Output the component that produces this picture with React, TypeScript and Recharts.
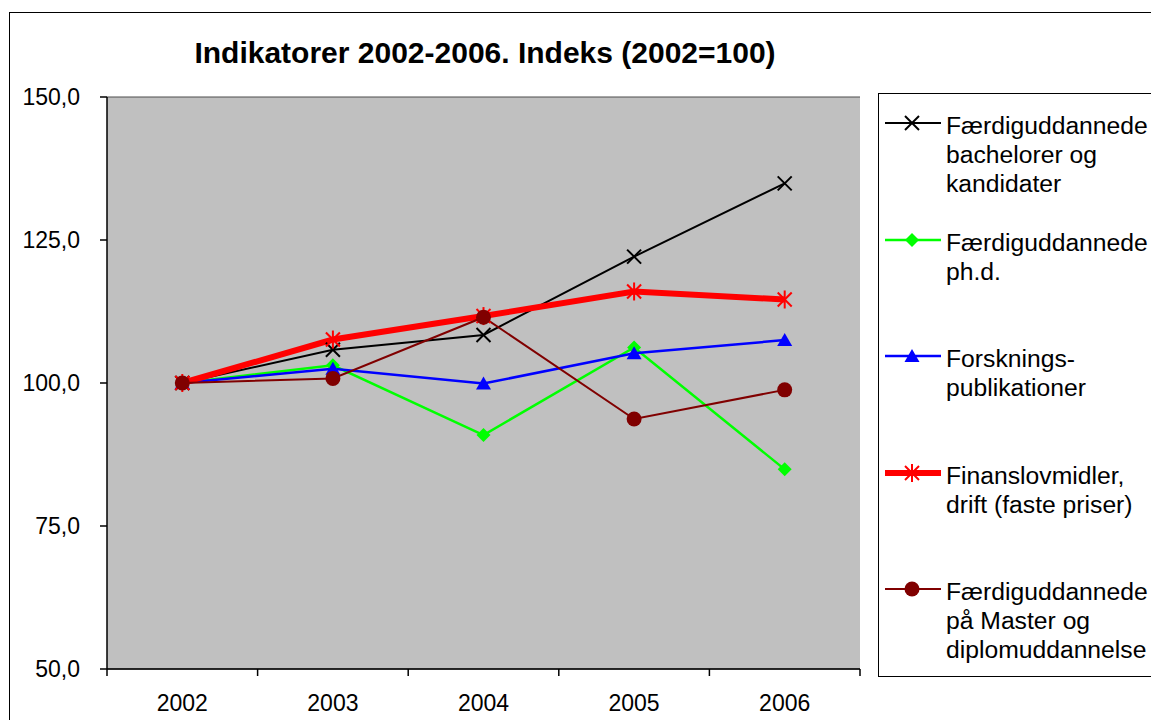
import React from "react";
import { LineChart, Line, XAxis, YAxis, CartesianGrid } from "recharts";

const years = ["2002", "2003", "2004", "2005", "2006"];
const bachelorer = [100, 105.8, 108.4, 122.1, 134.9];
const phd = [100, 103.1, 90.9, 106.2, 84.9];
const publikationer = [100, 102.5, 99.9, 105.2, 107.5];
const finanslov = [100, 107.6, 111.7, 116.0, 114.6];
const master = [100, 100.8, 111.5, 93.7, 98.8];
const yTicks = [50, 75, 100, 125, 150];

const FONT = '"Liberation Sans", Arial, sans-serif';
const PLOT_W = 753;
const BAND = PLOT_W / years.length;

type MarkerKind = "x" | "diamond" | "triangle" | "star" | "circle";

const series = [
  { key: "bach", label: ["Færdiguddannede", "bachelorer og", "kandidater"], values: bachelorer, color: "#000000", width: 2, marker: "x" as MarkerKind },
  { key: "phd", label: ["Færdiguddannede", "ph.d."], values: phd, color: "#00ff00", width: 2.5, marker: "diamond" as MarkerKind },
  { key: "publ", label: ["Forsknings-", "publikationer"], values: publikationer, color: "#0000ff", width: 2.5, marker: "triangle" as MarkerKind },
  { key: "fin", label: ["Finanslovmidler,", "drift (faste priser)"], values: finanslov, color: "#ff0000", width: 6, marker: "star" as MarkerKind },
  { key: "mast", label: ["Færdiguddannede", "på Master og", "diplomuddannelse"], values: master, color: "#800000", width: 2, marker: "circle" as MarkerKind },
];

const data = years.map((y, i) => {
  const row: Record<string, string | number> = { year: y };
  series.forEach((s) => (row[s.key] = s.values[i]));
  return row;
});

function Marker({ kind, cx, cy, color }: { kind: MarkerKind; cx: number; cy: number; color: string }) {
  if (kind === "x") {
    const d = 7;
    return (
      <g stroke={color} strokeWidth={2}>
        <line x1={cx - d} y1={cy - d} x2={cx + d} y2={cy + d} />
        <line x1={cx - d} y1={cy + d} x2={cx + d} y2={cy - d} />
      </g>
    );
  }
  if (kind === "diamond") {
    const d = 7;
    return <polygon points={`${cx},${cy - d} ${cx + d},${cy} ${cx},${cy + d} ${cx - d},${cy}`} fill={color} />;
  }
  if (kind === "triangle") {
    return <polygon points={`${cx},${cy - 7} ${cx + 7.5},${cy + 6} ${cx - 7.5},${cy + 6}`} fill={color} />;
  }
  if (kind === "star") {
    const d = 9;
    const e = 7;
    return (
      <g stroke={color} strokeWidth={2}>
        <line x1={cx} y1={cy - d} x2={cx} y2={cy + d} />
        <line x1={cx - e} y1={cy - e} x2={cx + e} y2={cy + e} />
        <line x1={cx - e} y1={cy + e} x2={cx + e} y2={cy - e} />
      </g>
    );
  }
  return <circle cx={cx} cy={cy} r={7.5} fill={color} />;
}

const XTick = (props: any) => {
  const { x, y, payload, index } = props;
  const top = y - 26;
  return (
    <g>
      <line x1={x - BAND / 2} y1={top} x2={x - BAND / 2} y2={top + 7} stroke="#000" strokeWidth={1.5} />
      {index === years.length - 1 && (
        <line x1={x + BAND / 2} y1={top} x2={x + BAND / 2} y2={top + 7} stroke="#000" strokeWidth={1.5} />
      )}
      <text x={x} y={y} dy="0.71em" textAnchor="middle" fontSize={23} fontFamily={FONT} fill="#000">
        {payload.value}
      </text>
    </g>
  );
};

export default function App() {
  return (
    <div style={{ position: "absolute", left: 0, top: 0, width: 1151, height: 720, overflow: "hidden", background: "#fff" }}>
      <div style={{ position: "absolute", left: 9, top: 12, width: 1300, height: 900, borderLeft: "1.5px solid #000", borderTop: "1.5px solid #000" }} />
      <div
        style={{
          position: "absolute",
          left: 0,
          width: 970,
          top: 38,
          textAlign: "center",
          fontFamily: FONT,
          fontWeight: "bold",
          fontSize: 30,
          lineHeight: "30px",
          color: "#000",
        }}
      >
        Indikatorer 2002-2006. Indeks (2002=100)
      </div>
      <div style={{ position: "absolute", left: 0, top: 0 }}>
        <LineChart width={1151} height={720} data={data} margin={{ top: 97, right: 291, bottom: 11, left: 10 }}>
          <CartesianGrid vertical={false} stroke="#4d4d4d" fill="#c0c0c0" fillOpacity={1} />
          <XAxis
            dataKey="year"
            padding={{ left: BAND / 2, right: BAND / 2 }}
            height={40}
            tickSize={7}
            tickMargin={19}
            tickLine={false}
            axisLine={{ stroke: "#000", strokeWidth: 1.5 }}
            tick={<XTick />}
            interval={0}
          />
          <YAxis
            yAxisId="left"
            domain={[50, 150]}
            ticks={yTicks}
            width={97}
            tickSize={7}
            tickMargin={20}
            tickLine={{ stroke: "#000", strokeWidth: 1.5 }}
            axisLine={{ stroke: "#000", strokeWidth: 1.5 }}
            tick={{ fontSize: 23, fontFamily: FONT, fill: "#000" }}
            tickFormatter={(v: number) => v.toFixed(1).replace(".", ",")}
          />
          <YAxis
            yAxisId="right"
            orientation="right"
            domain={[50, 150]}
            width={0}
            tick={false}
            tickLine={false}
            axisLine={{ stroke: "#808080", strokeWidth: 1.5 }}
          />
          {series.map((s) => (
            <Line
              key={s.key}
              yAxisId="left"
              dataKey={s.key}
              stroke={s.color}
              strokeWidth={s.width}
              isAnimationActive={false}
              activeDot={false}
              dot={(p: any) => <Marker key={`${s.key}-${p.index}`} kind={s.marker} cx={p.cx} cy={p.cy} color={s.color} />}
            />
          ))}
        </LineChart>
      </div>
      <div
        style={{
          position: "absolute",
          left: 878,
          top: 93,
          width: 400,
          height: 584,
          border: "1.5px solid #000",
          background: "#fff",
          boxSizing: "border-box",
        }}
      />
      {series.map((s, i) => (
        <div key={s.key} style={{ position: "absolute", left: 885, top: 111 + i * 116.5 }}>
          <svg width={56} height={24} style={{ position: "absolute", left: 0, top: 0 }}>
            <line x1={0} y1={12} x2={56} y2={12} stroke={s.color} strokeWidth={s.width} />
            <Marker kind={s.marker} cx={27} cy={12} color={s.color} />
          </svg>
          <div
            style={{
              position: "absolute",
              left: 61,
              top: 0,
              whiteSpace: "nowrap",
              fontFamily: FONT,
              fontSize: 24.7,
              lineHeight: "29px",
              color: "#000",
            }}
          >
            {s.label.map((t) => (
              <div key={t}>{t}</div>
            ))}
          </div>
        </div>
      ))}
    </div>
  );
}
